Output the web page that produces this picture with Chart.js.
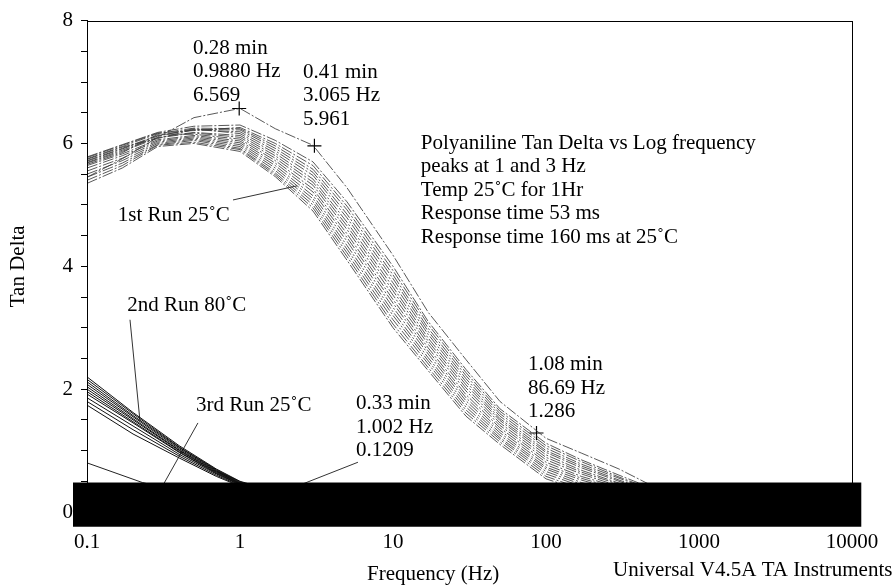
<!DOCTYPE html>
<html>
<head>
<meta charset="utf-8">
<script src="https://cdn.jsdelivr.net/npm/chart.js@4"></script>
<style>
  body { margin: 0; background: #fff; }
  #wrap { width: 894px; height: 586px; }
</style>
</head>
<body>
<div id="wrap"><canvas id="chart"></canvas></div>
<script>
// frequencies (Hz) of the measured points
const freq1 = [0.1, 0.17, 0.29, 0.5, 1, 1.7, 3, 5, 10, 17, 30, 50, 100, 170, 300, 500];
const freq2 = [0.1, 0.2, 0.4, 0.7, 1, 2];
const freq3 = [0.1, 0.23, 0.35, 1];

// 1st run 25C, tan delta for each scan
const run1 = [
  [5.45, 5.75, 6.10, 6.42, 6.57, 6.24, 5.97, 5.28, 4.18, 3.25, 2.48, 1.80, 1.20, 0.96, 0.70, 0.42],
  [5.78, 5.98, 6.18, 6.28, 6.30, 6.05, 5.70, 5.05, 4.00, 3.10, 2.32, 1.68, 1.12, 0.85, 0.60, 0.38],
  [5.77, 5.97, 6.17, 6.21, 6.26, 6.00, 5.64, 4.98, 3.93, 3.05, 2.27, 1.64, 1.08, 0.82, 0.57, 0.36],
  [5.75, 5.95, 6.16, 6.25, 6.24, 5.96, 5.58, 4.92, 3.86, 2.99, 2.22, 1.60, 1.04, 0.78, 0.55, 0.35],
  [5.74, 5.94, 6.08, 6.23, 6.22, 5.92, 5.53, 4.85, 3.80, 2.94, 2.17, 1.56, 1.00, 0.75, 0.52, 0.33],
  [5.72, 5.92, 6.13, 6.22, 6.19, 5.88, 5.48, 4.79, 3.73, 2.89, 2.12, 1.52, 0.97, 0.72, 0.50, 0.31],
  [5.71, 5.91, 6.12, 6.24, 6.16, 5.84, 5.42, 4.72, 3.66, 2.83, 2.07, 1.49, 0.93, 0.68, 0.47, 0.29],
  [5.69, 5.89, 6.10, 6.18, 6.13, 5.80, 5.37, 4.66, 3.60, 2.78, 2.02, 1.45, 0.89, 0.65, 0.45, 0.28],
  [5.68, 5.87, 6.09, 6.17, 6.10, 5.76, 5.32, 4.60, 3.53, 2.73, 1.97, 1.41, 0.85, 0.62, 0.42, 0.26],
  [5.66, 5.85, 6.15, 6.15, 6.07, 5.72, 5.26, 4.53, 3.46, 2.67, 1.91, 1.37, 0.81, 0.58, 0.40, 0.24],
  [5.64, 5.83, 6.06, 6.13, 6.04, 5.68, 5.21, 4.47, 3.40, 2.62, 1.86, 1.33, 0.77, 0.55, 0.37, 0.23],
  [5.60, 5.80, 6.04, 6.11, 6.01, 5.64, 5.15, 4.41, 3.33, 2.57, 1.81, 1.29, 0.73, 0.52, 0.35, 0.21],
  [5.55, 5.76, 6.02, 6.09, 5.98, 5.60, 5.10, 4.34, 3.26, 2.51, 1.76, 1.25, 0.70, 0.48, 0.32, 0.19],
  [5.50, 5.72, 6.00, 6.07, 5.95, 5.56, 5.05, 4.28, 3.20, 2.46, 1.71, 1.21, 0.66, 0.45, 0.30, 0.17],
  [5.45, 5.68, 5.98, 6.05, 5.92, 5.52, 5.00, 4.22, 3.13, 2.41, 1.66, 1.18, 0.62, 0.42, 0.27, 0.16],
  [5.40, 5.64, 5.97, 6.02, 5.90, 5.49, 4.95, 4.16, 3.06, 2.35, 1.61, 1.14, 0.58, 0.38, 0.25, 0.14],
  [5.35, 5.60, 5.95, 6.00, 5.87, 5.46, 4.90, 4.10, 3.00, 2.30, 1.56, 1.10, 0.54, 0.35, 0.22, 0.12]
];

// 2nd run 80C
const run2 = [
  [2.20, 1.62, 1.08, 0.70, 0.50, 0.28],
  [2.16, 1.60, 1.06, 0.69, 0.49, 0.27],
  [2.12, 1.57, 1.05, 0.68, 0.48, 0.27],
  [2.08, 1.55, 1.03, 0.67, 0.47, 0.26],
  [2.04, 1.52, 1.01, 0.66, 0.47, 0.26],
  [2.00, 1.50, 1.00, 0.65, 0.46, 0.25],
  [1.96, 1.47, 0.98, 0.64, 0.45, 0.25],
  [1.92, 1.45, 0.97, 0.63, 0.45, 0.24],
  [1.86, 1.40, 0.94, 0.62, 0.44, 0.24],
  [1.80, 1.34, 0.91, 0.60, 0.43, 0.23],
  [1.74, 1.27, 0.88, 0.58, 0.42, 0.22]
];

// 3rd run 25C
const run3 = [0.80, 0.48, 0.37, 0.12];

// marked points: frequency, tan delta
const markX = [0.988, 3.065, 86.69];
const markY = [6.569, 5.961, 1.286];

// leader lines from the labels to the curves
const leaders = [
  [[0.90, 5.08], [2.36, 5.31]],
  [[0.191, 3.13], [0.222, 1.48]],
  [[0.531, 1.45], [0.30, 0.35]],
  [[5.9, 0.81], [2.0, 0.35]]
];

const xTicks = [0.1, 1, 10, 100, 1000, 10000];

// text blocks: anchor (freq, tan delta) of first line, left aligned
const notes = [
  { x: 0.493, y: 7.55, lines: ['0.28 min', '0.9880 Hz', '6.569'] },
  { x: 2.58, y: 7.16, lines: ['0.41 min', '3.065 Hz', '5.961'] },
  { x: 15.2, y: 6.0, lines: ['Polyaniline Tan Delta vs Log frequency', 'peaks at 1 and 3 Hz',
      'Temp 25˚C for 1Hr', 'Response time 53 ms', 'Response time 160 ms at 25˚C'] },
  { x: 0.159, y: 4.82, lines: ['1st Run 25˚C'] },
  { x: 0.183, y: 3.37, lines: ['2nd Run 80˚C'] },
  { x: 0.516, y: 1.74, lines: ['3rd Run 25˚C'] },
  { x: 5.73, y: 1.76, lines: ['0.33 min', '1.002 Hz', '0.1209'] },
  { x: 76.3, y: 2.40, lines: ['1.08 min', '86.69 Hz', '1.286'] },
  { x: 6.76, y: -1.02, lines: ['Frequency (Hz)'] },
  { x: 274, y: -0.95, lines: ['Universal V4.5A TA Instruments'] }
];

// black bar over the bottom of the plot
const blackBar = { x0: 0.081, x1: 11500, y0: -0.24, y1: 0.48 };

const FONT = '21px "Liberation Serif", "Times New Roman", serif';

const datasets = [];
run1.forEach(r => datasets.push({
  data: freq1.map((f, i) => ({ x: f, y: r[i] })),
  borderColor: 'rgba(60,60,60,0.85)', borderWidth: 1, borderDash: [11, 2, 2, 2]
}));
run2.forEach(r => datasets.push({
  data: freq2.map((f, i) => ({ x: f, y: r[i] })),
  borderColor: '#111', borderWidth: 1
}));
datasets.push({
  data: freq3.map((f, i) => ({ x: f, y: run3[i] })),
  borderColor: '#222', borderWidth: 1
});
leaders.forEach(l => datasets.push({
  data: l.map(p => ({ x: p[0], y: p[1] })),
  borderColor: '#333', borderWidth: 1
}));
datasets.push({
  data: markX.map((x, i) => ({ x: x, y: markY[i] })),
  showLine: false, pointStyle: 'cross', pointRadius: 7,
  borderColor: '#000', borderWidth: 1.2
});

const decor = {
  id: 'decor',
  afterDatasetsDraw(chart) {
    const { ctx, chartArea: a, scales: { x, y } } = chart;
    ctx.save();
    ctx.strokeStyle = '#000';
    ctx.lineWidth = 1;
    ctx.strokeRect(Math.round(a.left) + 0.5, Math.round(a.top) + 0.5,
      Math.round(a.right - a.left), Math.round(a.bottom - a.top));
    ctx.fillStyle = '#000';
    ctx.font = FONT;
    ctx.textBaseline = 'middle';
    ctx.textAlign = 'left';
    notes.forEach(n => {
      const px = x.getPixelForValue(n.x), py = y.getPixelForValue(n.y);
      n.lines.forEach((t, i) => ctx.fillText(t, px, py + i * 23.5));
    });
    ctx.translate(18, (a.top + a.bottom) / 2);
    ctx.rotate(-Math.PI / 2);
    ctx.textAlign = 'center';
    ctx.fillText('Tan Delta', 0, 0);
    ctx.restore();
  },
  afterDraw(chart) {
    const { ctx, scales: { x, y } } = chart;
    const l = x.getPixelForValue(blackBar.x0), r = x.getPixelForValue(blackBar.x1);
    const t = y.getPixelForValue(blackBar.y1), b = y.getPixelForValue(blackBar.y0);
    ctx.save();
    ctx.fillStyle = '#000';
    ctx.fillRect(l, t, r - l, b - t);
    ctx.restore();
  }
};

new Chart(document.getElementById('chart'), {
  type: 'line',
  data: { datasets: datasets },
  plugins: [decor],
  options: {
    responsive: true,
    maintainAspectRatio: false,
    animation: false,
    layout: { padding: { top: 16, right: 42, left: 0, bottom: 0 } },
    elements: { point: { radius: 0 }, line: { tension: 0 } },
    plugins: { legend: { display: false }, tooltip: { enabled: false } },
    scales: {
      x: {
        type: 'logarithmic', min: 0.1, max: 10000,
        afterBuildTicks: s => { s.ticks = xTicks.map(v => ({ value: v })); },
        afterFit: s => { s.height = 74; },
        ticks: { color: '#000', font: { family: '"Liberation Serif"', size: 21 }, padding: 10,
          maxRotation: 0, autoSkip: false, callback: v => String(v) },
        grid: { drawOnChartArea: false, tickLength: 8, color: '#000' },
        border: { display: false }
      },
      y: {
        min: 0, max: 8,
        afterFit: s => { s.width = 87; },
        ticks: { stepSize: 0.5, autoSkip: false, color: '#000', padding: 8,
          font: { family: '"Liberation Serif"', size: 21 },
          callback: v => (v % 2 === 0 ? String(v) : '') },
        grid: { drawOnChartArea: false, tickLength: 6, color: '#000' },
        border: { display: true, color: '#000' }
      }
    }
  }
});
</script>
</body>
</html>
